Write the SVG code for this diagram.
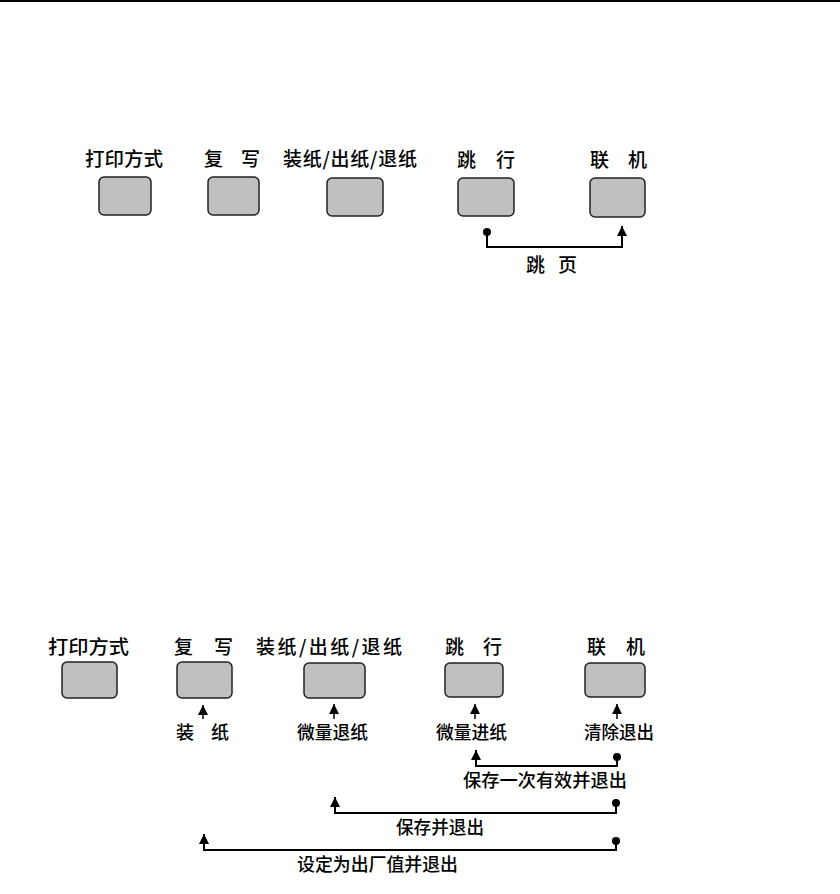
<svg xmlns="http://www.w3.org/2000/svg" width="840" height="894" viewBox="0 0 840 894">
<style>
.btn{fill:#c0c0c0;stroke:#222;stroke-width:1.5}
.lbl{font-family:"Noto Sans CJK SC","Liberation Sans",sans-serif;font-size:19px;font-weight:500;fill:#000}
.sm{font-size:18px}
.wire{fill:none;stroke:#000;stroke-width:2}
.stem{fill:none;stroke:#000;stroke-width:1.5}
</style>
<defs>
<marker id="arrow" viewBox="0 0 10 10" refX="10" refY="5" markerWidth="10" markerHeight="10" markerUnits="userSpaceOnUse" orient="auto">
<path d="M0,0 L10,5 L0,10 z" fill="#000"/>
</marker>
<marker id="dot" viewBox="0 0 10 10" refX="5" refY="5" markerWidth="8" markerHeight="8" markerUnits="userSpaceOnUse" orient="auto">
<circle cx="5" cy="5" r="5" fill="#000"/>
</marker>
</defs>
<rect width="840" height="894" fill="#fff"/>
<rect x="0" y="0" width="840" height="2" fill="#000"/>

<!-- Top panel -->
<g id="top-print-mode">
<text class="lbl" x="85" y="166" font-size="20" textLength="78" lengthAdjust="spacingAndGlyphs">打印方式</text>
<rect class="btn" x="99" y="177" width="52" height="38" rx="5"/>
</g>
<g id="top-copy">
<text class="lbl" x="204" y="166" font-size="20" textLength="56" lengthAdjust="spacing">复 写</text>
<rect class="btn" x="208" y="177" width="51" height="38" rx="5"/>
</g>
<g id="top-load">
<text class="lbl" x="283" y="166" font-size="20" textLength="134" lengthAdjust="spacing">装纸/出纸/退纸</text>
<rect class="btn" x="327" y="178" width="56" height="38" rx="5"/>
</g>
<g id="top-linefeed">
<text class="lbl" x="457" y="167" font-size="20" textLength="58" lengthAdjust="spacing">跳 行</text>
<rect class="btn" x="458" y="178" width="56" height="38" rx="5"/>
</g>
<g id="top-online">
<text class="lbl" x="590" y="167" font-size="20" textLength="57" lengthAdjust="spacing">联 机</text>
<rect class="btn" x="590" y="178" width="55" height="39" rx="5"/>
</g>
<g id="top-connectors">
<polyline class="wire" points="487,232 487,247 622,247 622,226" marker-start="url(#dot)" marker-end="url(#arrow)"/>
<text class="lbl" x="526" y="272" font-size="18" textLength="51" lengthAdjust="spacing">跳 页</text>
</g>

<!-- Bottom panel -->
<g id="bot-print-mode">
<text class="lbl" x="48" y="654" textLength="81" lengthAdjust="spacingAndGlyphs">打印方式</text>
<rect class="btn" x="62" y="662" width="55" height="36" rx="5"/>
</g>
<g id="bot-copy">
<text class="lbl" x="174" y="654" textLength="59" lengthAdjust="spacing">复 写</text>
<rect class="btn" x="177" y="662" width="55" height="36" rx="5"/>
</g>
<g id="bot-load">
<text class="lbl" x="256" y="654" textLength="146" lengthAdjust="spacing">装纸/出纸/退纸</text>
<rect class="btn" x="304" y="663" width="61" height="35" rx="5"/>
</g>
<g id="bot-linefeed">
<text class="lbl" x="445" y="654" textLength="57" lengthAdjust="spacing">跳 行</text>
<rect class="btn" x="445" y="663" width="58" height="34" rx="5"/>
</g>
<g id="bot-online">
<text class="lbl" x="587" y="654" textLength="58" lengthAdjust="spacing">联 机</text>
<rect class="btn" x="585" y="663" width="60" height="34" rx="5"/>
</g>
<g id="bot-connectors">
<line class="stem" x1="203" y1="719" x2="203" y2="705" marker-end="url(#arrow)"/>
<line class="stem" x1="334" y1="719" x2="334" y2="704" marker-end="url(#arrow)"/>
<line class="stem" x1="475" y1="719" x2="475" y2="704" marker-end="url(#arrow)"/>
<line class="stem" x1="617" y1="719" x2="617" y2="704" marker-end="url(#arrow)"/>
<polyline class="wire" points="617,757 617,766 476,766 476,750" marker-start="url(#dot)" marker-end="url(#arrow)"/>
<polyline class="wire" points="616,803 616,813 335,813 335,797" marker-start="url(#dot)" marker-end="url(#arrow)"/>
<polyline class="wire" points="616,841 616,850 204,850 204,834" marker-start="url(#dot)" marker-end="url(#arrow)"/>
</g>
<g id="bot-labels">
<text class="lbl sm" x="176" y="739" textLength="53" lengthAdjust="spacing">装 纸</text>
<text class="lbl sm" x="297" y="739" textLength="71" lengthAdjust="spacingAndGlyphs">微量退纸</text>
<text class="lbl sm" x="436" y="739" textLength="71" lengthAdjust="spacingAndGlyphs">微量进纸</text>
<text class="lbl sm" x="584" y="739" textLength="70" lengthAdjust="spacingAndGlyphs">清除退出</text>
<text class="lbl sm" x="463" y="787" textLength="164" lengthAdjust="spacingAndGlyphs">保存一次有效并退出</text>
<text class="lbl sm" x="396" y="834" textLength="88" lengthAdjust="spacingAndGlyphs">保存并退出</text>
<text class="lbl sm" x="297" y="871" textLength="161" lengthAdjust="spacingAndGlyphs">设定为出厂值并退出</text>
</g>
</svg>
